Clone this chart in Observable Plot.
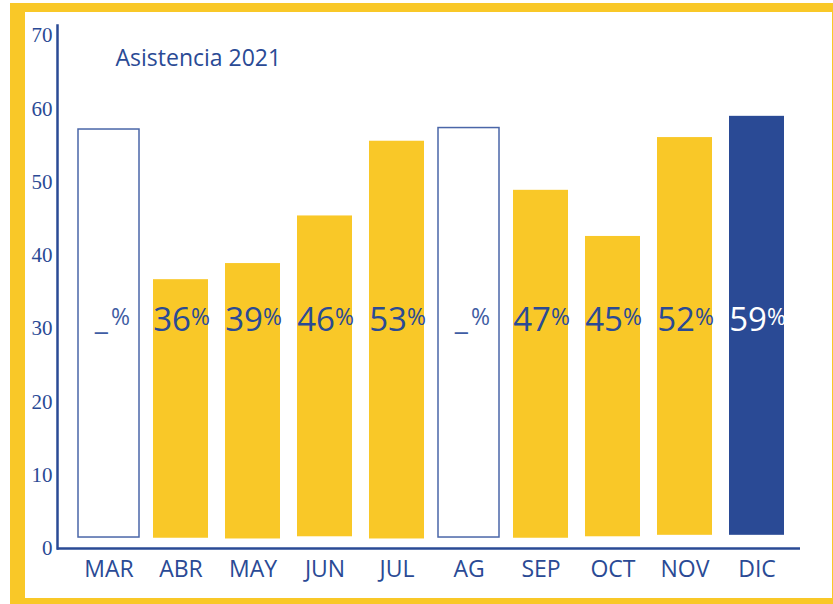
<!DOCTYPE html>
<html>
<head>
<meta charset="utf-8">
<script src="https://cdn.jsdelivr.net/npm/d3@7"></script>
<script src="https://cdn.jsdelivr.net/npm/@observablehq/plot@0.6"></script>
<style>
  html, body { margin: 0; padding: 0; background: #ffffff; }
  body { width: 833px; height: 604px; position: relative; overflow: hidden; }
  #frame {
    position: absolute; left: 10px; top: 3px; width: 823px; height: 601px;
    box-sizing: border-box; background: #ffffff;
    border-left: 15px solid #F9C828; border-top: 9px solid #F9C828;
    border-right: 1px solid #F9C828; border-bottom: 6px solid #F9C828;
  }
  #chart { position: absolute; left: 0; top: 0; }
  #chart svg { overflow: visible; }
</style>
</head>
<body>
<div id="frame"></div>
<div id="chart"></div>
<script>
const months = ["MAR", "ABR", "MAY", "JUN", "JUL", "AG", "SEP", "OCT", "NOV", "DIC"];
const tops   = [57.2, 36.7, 38.9, 45.4, 55.6, 57.4, 48.9, 42.6, 56.1, 59.0];
const bases  = [1.5, 1.4, 1.3, 1.6, 1.3, 1.5, 1.4, 1.6, 1.8, 1.8];
const labels = ["_", "36", "39", "46", "53", "_", "47", "45", "52", "59"];
const kinds  = ["open", "fill", "fill", "fill", "fill", "open", "fill", "fill", "fill", "last"];
const yTicks = [0, 10, 20, 30, 40, 50, 60, 70];
const title = "Asistencia 2021";

const BLUE = "#2A4A95";
const YELLOW = "#F9C828";

const data = months.map((m, i) => ({month: m, top: tops[i], base: bases[i], label: labels[i], kind: kinds[i]}));
const open = data.filter(d => d.kind === "open");
const filled = data.filter(d => d.kind !== "open");
const numbered = data.filter(d => d.label !== "_");
const blanks = data.filter(d => d.label === "_");
const labelColor = d => d.kind === "last" ? "#ffffff" : BLUE;

const chart = Plot.plot({
  width: 833,
  height: 604,
  marginLeft: 57,
  marginRight: 33,
  marginTop: 25,
  marginBottom: 56,
  style: {fontFamily: "'Open Sans', sans-serif", background: "transparent", overflow: "visible"},
  x: {type: "band", domain: months, range: [62.7, 803], padding: 0.24},
  y: {domain: [0, 71.4]},
  marks: [
    Plot.barY(filled, {x: "month", y1: "base", y2: "top",
      fill: d => d.kind === "last" ? BLUE : YELLOW}),
    Plot.barY(open, {x: "month", y1: "base", y2: "top", fill: "white",
      stroke: "#4A66A8", strokeWidth: 1.5, insetLeft: -3, insetRight: -3}),
    Plot.text(numbered, {x: "month", y: 31.1, text: "label", textAnchor: "end", dx: 10,
      fontSize: 33, fill: labelColor, lineAnchor: "middle"}),
    Plot.text(numbered, {x: "month", y: 31.1, text: () => "%", textAnchor: "start", dx: 10, dy: -3,
      fontSize: 23, fill: labelColor, lineAnchor: "middle"}),
    Plot.text(blanks, {x: "month", y: 31.1, text: "label", textAnchor: "end", dx: -1,
      fontSize: 30, fill: "#3F5DA3", lineAnchor: "middle"}),
    Plot.text(blanks, {x: "month", y: 31.1, text: () => "%", textAnchor: "start", dx: 2, dy: -3,
      fontSize: 23, fill: "#3F5DA3", lineAnchor: "middle"}),
    Plot.text([title], {frameAnchor: "top-left", dx: 58, dy: 33, text: d => d,
      textAnchor: "start", lineAnchor: "middle", fontSize: 23, fill: BLUE}),
    Plot.axisY({ticks: yTicks, tickSize: 0, tickPadding: 5, label: null,
      fontSize: 21, fontFamily: "'Liberation Serif', serif", fill: BLUE, tickFormat: d => String(d)}),
    Plot.axisX({tickSize: 0, tickPadding: 12, label: null, fontSize: 23, fill: BLUE}),
    Plot.frame({anchor: "left", stroke: BLUE, strokeWidth: 2.5}),
    Plot.ruleY([0], {stroke: BLUE, strokeWidth: 2.5})
  ]
});
document.getElementById("chart").appendChild(chart);
</script>
</body>
</html>
